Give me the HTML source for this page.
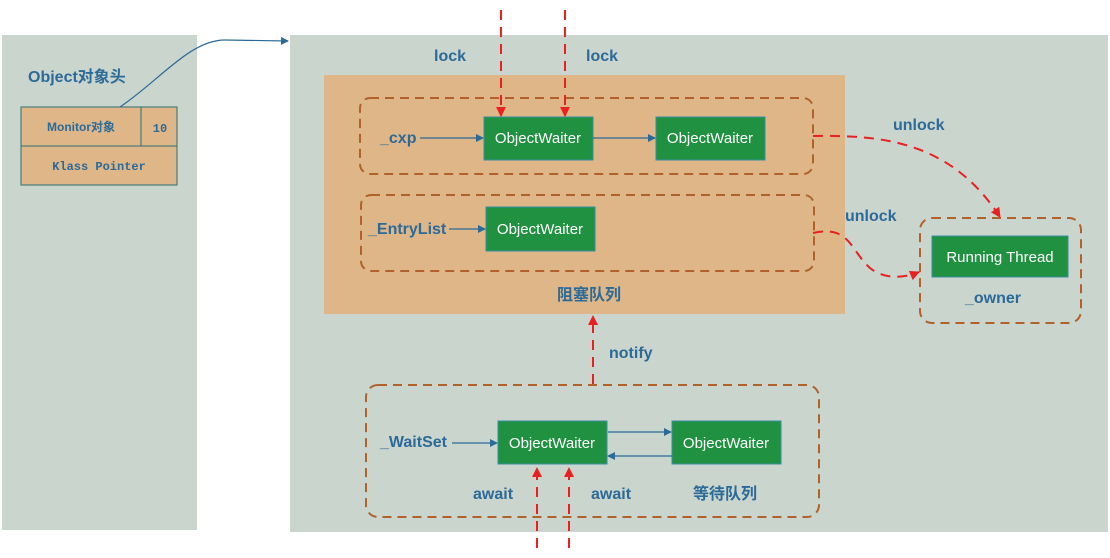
<!DOCTYPE html>
<html><head><meta charset="utf-8"><style>
html,body{margin:0;padding:0;background:#fff;}
svg{display:block}
text{font-family:"Liberation Sans","Noto Sans CJK SC",sans-serif;}
.lb{fill:#2c6a98;font-weight:bold;font-size:16px;}
.ow{fill:#fff;font-size:15px;text-anchor:middle;}
</style></head><body>
<svg width="1110" height="558" viewBox="0 0 1110 558">
<defs>
<marker id="ab" markerWidth="8" markerHeight="8" refX="7" refY="4" orient="auto" markerUnits="userSpaceOnUse"><path d="M0,0 L8,4 L0,8z" fill="#2c6a98"/></marker>
<marker id="ar" markerWidth="10" markerHeight="10" refX="9" refY="5" orient="auto" markerUnits="userSpaceOnUse"><path d="M0,0 L10,5 L0,10z" fill="#e82020"/></marker>
</defs>
<rect x="2" y="35" width="195" height="495" fill="#cad5ce"/>
<rect x="290" y="35" width="818" height="497" fill="#cad5ce"/>
<rect x="324" y="75" width="521" height="239" fill="#deb688"/>
<text x="28" y="82" class="lb">Object对象头</text>
<rect x="21" y="107" width="156" height="78" fill="#deb688" stroke="#2f6f73" stroke-width="1"/>
<line x1="21" y1="146" x2="177" y2="146" stroke="#2f6f73"/>
<line x1="141" y1="107" x2="141" y2="146" stroke="#2f6f73"/>
<text x="81" y="131" text-anchor="middle" style="fill:#2c6a98;font-weight:bold;font-size:12px">Monitor对象</text>
<text x="160" y="132" text-anchor="middle" style="fill:#2c6a98;font-weight:bold;font-size:12px;font-family:'Liberation Mono',monospace">10</text>
<text x="99" y="170" text-anchor="middle" style="fill:#2c6a98;font-weight:bold;font-size:12px;font-family:'Liberation Mono',monospace">Klass Pointer</text>
<path d="M120,107 C160,80 190,40 225,40 L288,41" fill="none" stroke="#2c6a98" stroke-width="1.2" marker-end="url(#ab)"/>
<g fill="none" stroke="#b0622a" stroke-width="2" stroke-dasharray="9,6">
<rect x="360" y="98" width="453" height="76" rx="10"/>
<rect x="361" y="195" width="453" height="76" rx="10"/>
<rect x="920" y="218" width="161" height="105" rx="12"/>
<rect x="366" y="385" width="453" height="132" rx="12"/>
</g>
<g fill="#1f9140" stroke="#3a8fa0" stroke-width="1">
<rect x="484" y="117" width="109" height="43"/>
<rect x="656" y="117" width="109" height="43"/>
<rect x="486" y="207" width="109" height="44"/>
<rect x="932" y="236" width="136" height="41"/>
<rect x="498" y="421" width="109" height="43"/>
<rect x="672" y="421" width="109" height="43"/>
</g>
<text x="538" y="143" class="ow">ObjectWaiter</text>
<text x="710" y="143" class="ow">ObjectWaiter</text>
<text x="540" y="234" class="ow">ObjectWaiter</text>
<text x="1000" y="262" class="ow">Running Thread</text>
<text x="552" y="448" class="ow">ObjectWaiter</text>
<text x="726" y="448" class="ow">ObjectWaiter</text>
<text x="380" y="143" class="lb">_cxp</text>
<text x="368" y="234" class="lb">_EntryList</text>
<text x="380" y="447" class="lb">_WaitSet</text>
<text x="434" y="61" class="lb">lock</text>
<text x="586" y="61" class="lb">lock</text>
<text x="893" y="130" class="lb">unlock</text>
<text x="845" y="221" class="lb">unlock</text>
<text x="965" y="303" class="lb">_owner</text>
<text x="609" y="358" class="lb">notify</text>
<text x="473" y="499" class="lb">await</text>
<text x="591" y="499" class="lb">await</text>
<text x="557" y="300" class="lb">阻塞队列</text>
<text x="693" y="499" class="lb">等待队列</text>
<g stroke="#2c6a98" stroke-width="1.2" fill="none" marker-end="url(#ab)">
<line x1="420" y1="138" x2="483" y2="138"/>
<line x1="593" y1="138" x2="655" y2="138"/>
<line x1="449" y1="229" x2="485" y2="229"/>
<line x1="452" y1="443" x2="497" y2="443"/>
<line x1="608" y1="432" x2="671" y2="432"/>
<line x1="672" y1="456" x2="608" y2="456"/>
</g>
<g stroke="#e82020" stroke-width="2" fill="none" stroke-dasharray="10,7" marker-end="url(#ar)">
<line x1="501" y1="10" x2="501" y2="116"/>
<line x1="565" y1="10" x2="565" y2="116"/>
<line x1="593" y1="384" x2="593" y2="316"/>
<line x1="537" y1="548" x2="537" y2="468"/>
<line x1="569" y1="548" x2="569" y2="468"/>
<path d="M813,136 C880,135 950,140 1000,217"/>
<path d="M813,233 C850,225 850,250 870,268 C885,280 905,278 919,272"/>
</g>
</svg>
</body></html>
